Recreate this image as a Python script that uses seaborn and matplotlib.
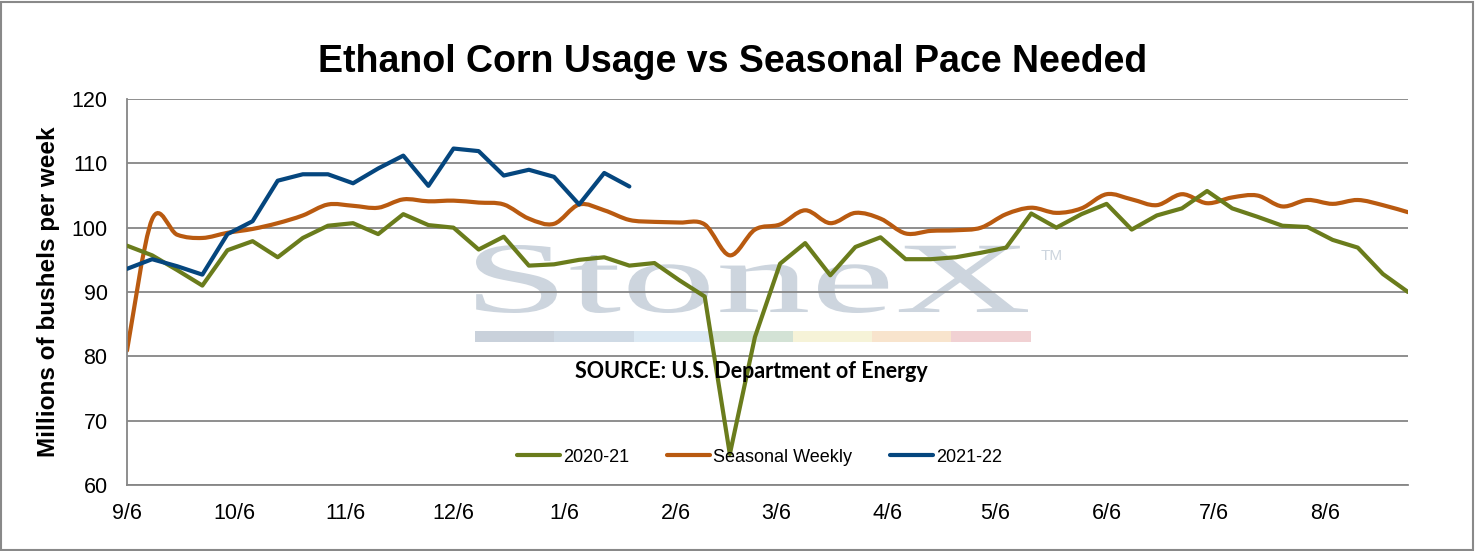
import datetime as dt
import numpy as np
import pandas as pd
import seaborn as sns
import matplotlib
matplotlib.use("Agg")
import matplotlib.pyplot as plt
from matplotlib.path import Path
from matplotlib.patches import PathPatch, Rectangle
from matplotlib.lines import Line2D
from matplotlib.textpath import TextPath
from matplotlib.font_manager import FontProperties
from matplotlib.transforms import Affine2D

# weekly values, first week = 9/6
usage_2020_21 = [97.2, 95.7, 93.4, 91.0, 96.5, 97.9, 95.4, 98.4, 100.3, 100.7,
                 99.0, 102.1, 100.4, 100.0, 96.6, 98.6, 94.1, 94.3, 95.0, 95.4,
                 94.1, 94.5, 91.8, 89.3, 64.8, 83.0, 94.4, 97.6, 92.6, 97.0,
                 98.5, 95.1, 95.1, 95.4, 96.1, 96.9, 102.2, 100.0, 102.1, 103.7,
                 99.7, 101.9, 103.0, 105.7, 103.0, 101.7, 100.3, 100.1, 98.1, 96.9,
                 92.8, 90.0]
seasonal_weekly = [80.9, 101.3, 98.9, 98.4, 99.2, 99.8, 100.7, 101.9, 103.6, 103.4,
                   103.1, 104.4, 104.1, 104.2, 103.9, 103.6, 101.4, 100.6, 103.6, 102.7,
                   101.2, 100.9, 100.8, 100.5, 95.7, 99.7, 100.5, 102.7, 100.7, 102.3,
                   101.4, 99.1, 99.5, 99.6, 100.0, 102.1, 103.1, 102.3, 103.0, 105.2,
                   104.4, 103.5, 105.2, 103.8, 104.7, 105.0, 103.3, 104.3, 103.7, 104.3,
                   103.5, 102.4]
usage_2021_22 = [93.6, 95.1, 94.0, 92.7, 99.0, 101.0, 107.3, 108.3, 108.3, 106.9,
                 109.2, 111.2, 106.5, 112.3, 111.9, 108.1, 109.0, 107.9, 103.6, 108.5,
                 106.4]

start_date = dt.date(2020, 9, 6)
tick_dates = [dt.date(2020, m, 6) for m in range(9, 13)] + [dt.date(2021, m, 6) for m in range(1, 9)]
tick_labels = ["9/6", "10/6", "11/6", "12/6", "1/6", "2/6", "3/6", "4/6", "5/6", "6/6", "7/6", "8/6"]

GREEN = "#6a7c1c"
ORANGE = "#b95a10"
BLUE = "#05467e"
GRID = "#868686"

sns.set_theme(style="white")
plt.rcParams["font.family"] = ["Liberation Sans", "DejaVu Sans"]
plt.rcParams["text.color"] = "black"
plt.rcParams["axes.labelcolor"] = "black"

fig = plt.figure(figsize=(14.75, 5.51), dpi=100)
W, H = 1475, 551
ax = fig.add_axes([127 / W, 1 - 485 / H, (1408 - 127) / W, (485 - 99) / H])
ax.patch.set_alpha(0)

df = pd.concat([
    pd.DataFrame({"week": np.arange(len(usage_2020_21)), "value": usage_2020_21, "season": "2020-21"}),
    pd.DataFrame({"week": np.arange(len(usage_2021_22)), "value": usage_2021_22, "season": "2021-22"}),
])
sns.lineplot(data=df, x="week", y="value", hue="season",
             palette={"2020-21": GREEN, "2021-22": BLUE},
             linewidth=3.0, legend=False, ax=ax, zorder=3)
for ln in ax.lines:
    ln.set_solid_capstyle("round")
    ln.set_solid_joinstyle("round")

# smoothed seasonal line (Excel style)
pts = np.column_stack([np.arange(len(seasonal_weekly)), seasonal_weekly])
verts = [pts[0]]
codes = [Path.MOVETO]
n = len(pts)
for i in range(n - 1):
    p0 = pts[max(i - 1, 0)]
    p1 = pts[i]
    p2 = pts[i + 1]
    p3 = pts[min(i + 2, n - 1)]
    verts += [p1 + (p2 - p0) / 6, p2 - (p3 - p1) / 6, p2]
    codes += [Path.CURVE4] * 3
ax.add_patch(PathPatch(Path(verts, codes), fill=False, edgecolor=ORANGE,
                       linewidth=3.0, capstyle="round", zorder=2))

ax.set_xlim(0, len(usage_2020_21) - 1)
ax.set_ylim(60, 120)
ax.set_yticks(range(60, 121, 10))
ax.set_xticks([(d - start_date).days / 7 for d in tick_dates])
ax.set_xticklabels(tick_labels)
ax.grid(axis="y", color=GRID, linewidth=1.3)
ax.set_axisbelow(True)
for side in ["top", "right"]:
    ax.spines[side].set_visible(False)
for side in ["left", "bottom"]:
    ax.spines[side].set_color(GRID)
    ax.spines[side].set_linewidth(1.3)
ax.tick_params(axis="both", length=0, labelsize=15.5, colors="black")
ax.tick_params(axis="y", pad=14)
ax.tick_params(axis="x", pad=13)
ax.set_xlabel("")
ax.set_ylabel("Millions of bushels per week", fontsize=17.5, fontweight="bold")
ax.yaxis.set_label_coords(-0.052, 0.5)

fig.text(733 / W, 1 - 62 / H, "Ethanol Corn Usage vs Seasonal Pace Needed",
         ha="center", va="center", fontsize=27, fontweight="bold")

# watermark
wm = "#cdd5de"
tp = TextPath((0, 0), "StoneX", size=100, prop=FontProperties(family="Liberation Serif"))
bb = tp.get_extents()
tr = (Affine2D().translate(-bb.x0, -bb.y0).scale(552 / bb.width, 68 / bb.height)
      .translate(476, H - 313).scale(1 / W, 1 / H) + fig.transFigure)
fig.patches.append(PathPatch(tp, transform=tr, facecolor=wm, edgecolor="none", zorder=-2))
fig.text(1052 / W, 1 - 256 / H, "TM", ha="center", va="center", fontsize=11, color=wm, zorder=-2)
stripe = ["#c9d1db", "#cfdae5", "#dce9f3", "#d3e2d5", "#f6f3d8", "#f8e4cd", "#f1d1d3"]
for k, c in enumerate(stripe):
    fig.patches.append(Rectangle(((475 + k * 79.4) / W, 1 - 342 / H), 79.4 / W, 11 / H,
                                 transform=fig.transFigure, facecolor=c, edgecolor="none", zorder=-2))

fig.text(751 / W, 1 - 372 / H, "SOURCE: U.S. Department of Energy",
         ha="center", va="center", fontsize=15.5, fontweight="bold",
         family=["Lato", "DejaVu Sans"])

handles = [Line2D([], [], color=GREEN, lw=3, solid_capstyle="round"),
           Line2D([], [], color=ORANGE, lw=3, solid_capstyle="round"),
           Line2D([], [], color=BLUE, lw=3, solid_capstyle="round")]
ax.legend(handles, ["2020-21", "Seasonal Weekly", "2021-22"], ncol=3, loc="center",
          bbox_to_anchor=(0.4938, 0.072), frameon=False, fontsize=13,
          handlelength=2.4, handletextpad=0.15, columnspacing=2.1)

fig.patches.append(Rectangle((1 / W, 1 / H), 1 - 3 / W, 1 - 3 / H, transform=fig.transFigure,
                             fill=False, edgecolor="#898989", linewidth=1.5))

fig.savefig("out.png", dpi=100)
